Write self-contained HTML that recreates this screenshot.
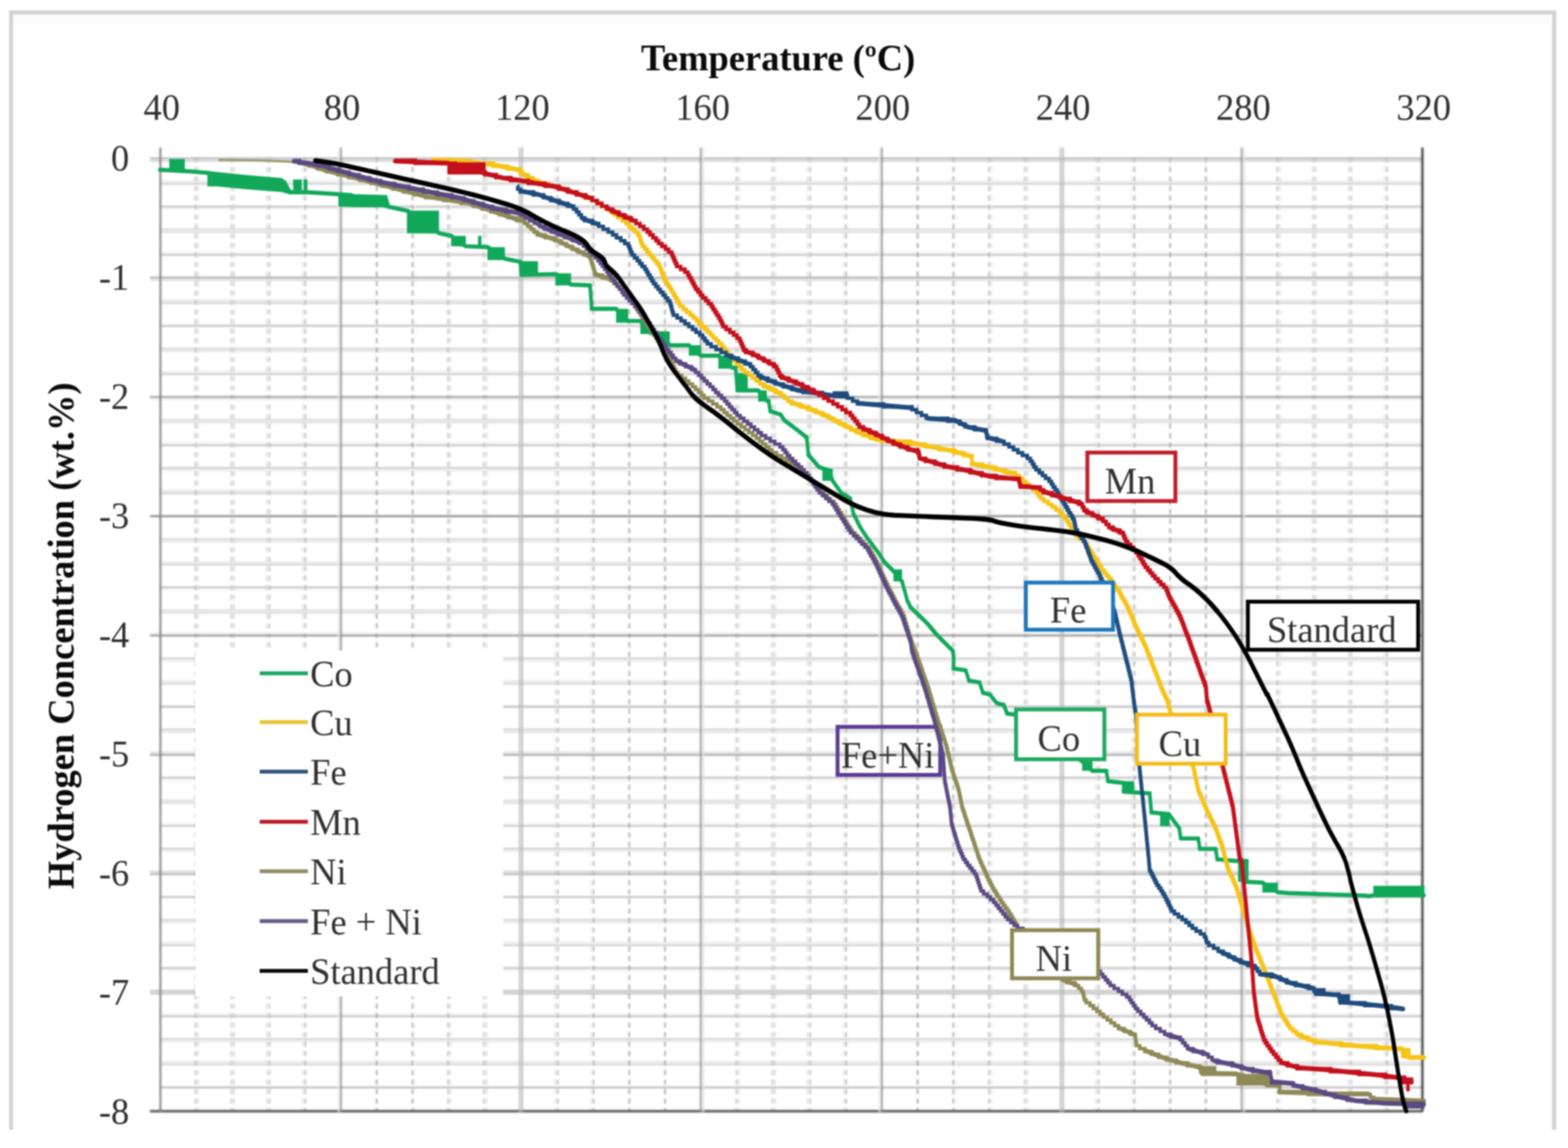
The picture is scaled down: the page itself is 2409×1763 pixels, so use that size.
<!DOCTYPE html>
<html lang="en"><head><meta charset="utf-8"><title>Hydrogen Concentration vs Temperature</title>
<style>
html,body{margin:0;padding:0;background:#fff;}
body{width:2409px;height:1763px;overflow:hidden;}
svg{display:block;filter:blur(0.9px);}
text{font-family:"Liberation Serif","DejaVu Serif",serif;fill:#303030;}
.b{font-weight:bold;fill:#0a0a0a;}
.c{fill:none;stroke-linejoin:round;stroke-linecap:round;}
</style></head><body>
<svg width="2409" height="1763" viewBox="0 0 2409 1763">
<rect x="0" y="0" width="2409" height="1763" fill="#ffffff"/>
<g id="frame" fill="#d3d3d3">
<rect x="14" y="16" width="2377" height="6.2"/>
<rect x="14" y="16" width="6" height="1719"/>
<rect x="2384.4" y="16" width="6.6" height="1719"/>
</g>
<g id="frame-shadow" fill="#fbfbfb">
<rect x="20.5" y="22.5" width="2364" height="14"/>
</g>
<g id="grid" style="filter:blur(0.8px)">
<line x1="246.4" y1="278.2" x2="2185.3" y2="278.2" stroke="#ebebeb" stroke-width="2.4"/>
<line x1="246.4" y1="282.1" x2="2185.3" y2="282.1" stroke="#c3c3c3" stroke-width="2.4"/>
<line x1="246.4" y1="317.2" x2="2185.3" y2="317.2" stroke="#b9b9b9" stroke-width="2.4"/>
<line x1="246.4" y1="321.1" x2="2185.3" y2="321.1" stroke="#f5f5f5" stroke-width="2.4"/>
<line x1="246.4" y1="352.3" x2="2185.3" y2="352.3" stroke="#d7d7d7" stroke-width="2.4"/>
<line x1="246.4" y1="356.2" x2="2185.3" y2="356.2" stroke="#d7d7d7" stroke-width="2.4"/>
<line x1="246.4" y1="387.4" x2="2185.3" y2="387.4" stroke="#f5f5f5" stroke-width="2.4"/>
<line x1="246.4" y1="391.3" x2="2185.3" y2="391.3" stroke="#b9b9b9" stroke-width="2.4"/>
<line x1="246.4" y1="461.4" x2="2185.3" y2="461.4" stroke="#e1e1e1" stroke-width="2.4"/>
<line x1="246.4" y1="465.3" x2="2185.3" y2="465.3" stroke="#cdcdcd" stroke-width="2.4"/>
<line x1="246.4" y1="500.4" x2="2185.3" y2="500.4" stroke="#afafaf" stroke-width="2.4"/>
<line x1="246.4" y1="535.5" x2="2185.3" y2="535.5" stroke="#cdcdcd" stroke-width="2.4"/>
<line x1="246.4" y1="539.4" x2="2185.3" y2="539.4" stroke="#e1e1e1" stroke-width="2.4"/>
<line x1="246.4" y1="570.6" x2="2185.3" y2="570.6" stroke="#ebebeb" stroke-width="2.4"/>
<line x1="246.4" y1="574.5" x2="2185.3" y2="574.5" stroke="#c3c3c3" stroke-width="2.4"/>
<line x1="246.4" y1="644.7" x2="2185.3" y2="644.7" stroke="#d7d7d7" stroke-width="2.4"/>
<line x1="246.4" y1="648.6" x2="2185.3" y2="648.6" stroke="#d7d7d7" stroke-width="2.4"/>
<line x1="246.4" y1="679.8" x2="2185.3" y2="679.8" stroke="#f5f5f5" stroke-width="2.4"/>
<line x1="246.4" y1="683.7" x2="2185.3" y2="683.7" stroke="#b9b9b9" stroke-width="2.4"/>
<line x1="246.4" y1="718.7" x2="2185.3" y2="718.7" stroke="#c3c3c3" stroke-width="2.4"/>
<line x1="246.4" y1="722.6" x2="2185.3" y2="722.6" stroke="#ebebeb" stroke-width="2.4"/>
<line x1="246.4" y1="753.8" x2="2185.3" y2="753.8" stroke="#e1e1e1" stroke-width="2.4"/>
<line x1="246.4" y1="757.7" x2="2185.3" y2="757.7" stroke="#cdcdcd" stroke-width="2.4"/>
<line x1="246.4" y1="827.9" x2="2185.3" y2="827.9" stroke="#cdcdcd" stroke-width="2.4"/>
<line x1="246.4" y1="831.8" x2="2185.3" y2="831.8" stroke="#e1e1e1" stroke-width="2.4"/>
<line x1="246.4" y1="863.0" x2="2185.3" y2="863.0" stroke="#ebebeb" stroke-width="2.4"/>
<line x1="246.4" y1="866.9" x2="2185.3" y2="866.9" stroke="#c3c3c3" stroke-width="2.4"/>
<line x1="246.4" y1="902.0" x2="2185.3" y2="902.0" stroke="#b9b9b9" stroke-width="2.4"/>
<line x1="246.4" y1="905.9" x2="2185.3" y2="905.9" stroke="#f5f5f5" stroke-width="2.4"/>
<line x1="246.4" y1="937.1" x2="2185.3" y2="937.1" stroke="#d7d7d7" stroke-width="2.4"/>
<line x1="246.4" y1="941.0" x2="2185.3" y2="941.0" stroke="#d7d7d7" stroke-width="2.4"/>
<line x1="246.4" y1="1011.1" x2="2185.3" y2="1011.1" stroke="#c3c3c3" stroke-width="2.4"/>
<line x1="246.4" y1="1015.0" x2="2185.3" y2="1015.0" stroke="#ebebeb" stroke-width="2.4"/>
<line x1="246.4" y1="1046.2" x2="2185.3" y2="1046.2" stroke="#e1e1e1" stroke-width="2.4"/>
<line x1="246.4" y1="1050.1" x2="2185.3" y2="1050.1" stroke="#cdcdcd" stroke-width="2.4"/>
<line x1="246.4" y1="1085.2" x2="2185.3" y2="1085.2" stroke="#afafaf" stroke-width="2.4"/>
<line x1="246.4" y1="1120.3" x2="2185.3" y2="1120.3" stroke="#cdcdcd" stroke-width="2.4"/>
<line x1="246.4" y1="1124.2" x2="2185.3" y2="1124.2" stroke="#e1e1e1" stroke-width="2.4"/>
<line x1="246.4" y1="1194.3" x2="2185.3" y2="1194.3" stroke="#b9b9b9" stroke-width="2.4"/>
<line x1="246.4" y1="1198.2" x2="2185.3" y2="1198.2" stroke="#f5f5f5" stroke-width="2.4"/>
<line x1="246.4" y1="1229.4" x2="2185.3" y2="1229.4" stroke="#d7d7d7" stroke-width="2.4"/>
<line x1="246.4" y1="1233.3" x2="2185.3" y2="1233.3" stroke="#d7d7d7" stroke-width="2.4"/>
<line x1="246.4" y1="1264.5" x2="2185.3" y2="1264.5" stroke="#f5f5f5" stroke-width="2.4"/>
<line x1="246.4" y1="1268.4" x2="2185.3" y2="1268.4" stroke="#b9b9b9" stroke-width="2.4"/>
<line x1="246.4" y1="1303.5" x2="2185.3" y2="1303.5" stroke="#c3c3c3" stroke-width="2.4"/>
<line x1="246.4" y1="1307.4" x2="2185.3" y2="1307.4" stroke="#ebebeb" stroke-width="2.4"/>
<line x1="246.4" y1="1377.6" x2="2185.3" y2="1377.6" stroke="#afafaf" stroke-width="2.4"/>
<line x1="246.4" y1="1412.7" x2="2185.3" y2="1412.7" stroke="#cdcdcd" stroke-width="2.4"/>
<line x1="246.4" y1="1416.6" x2="2185.3" y2="1416.6" stroke="#e1e1e1" stroke-width="2.4"/>
<line x1="246.4" y1="1447.7" x2="2185.3" y2="1447.7" stroke="#ebebeb" stroke-width="2.4"/>
<line x1="246.4" y1="1451.6" x2="2185.3" y2="1451.6" stroke="#c3c3c3" stroke-width="2.4"/>
<line x1="246.4" y1="1486.7" x2="2185.3" y2="1486.7" stroke="#b9b9b9" stroke-width="2.4"/>
<line x1="246.4" y1="1490.6" x2="2185.3" y2="1490.6" stroke="#f5f5f5" stroke-width="2.4"/>
<line x1="246.4" y1="1556.9" x2="2185.3" y2="1556.9" stroke="#f5f5f5" stroke-width="2.4"/>
<line x1="246.4" y1="1560.8" x2="2185.3" y2="1560.8" stroke="#b9b9b9" stroke-width="2.4"/>
<line x1="246.4" y1="1595.9" x2="2185.3" y2="1595.9" stroke="#c3c3c3" stroke-width="2.4"/>
<line x1="246.4" y1="1599.8" x2="2185.3" y2="1599.8" stroke="#ebebeb" stroke-width="2.4"/>
<line x1="246.4" y1="1631.0" x2="2185.3" y2="1631.0" stroke="#e1e1e1" stroke-width="2.4"/>
<line x1="246.4" y1="1634.9" x2="2185.3" y2="1634.9" stroke="#cdcdcd" stroke-width="2.4"/>
<line x1="246.4" y1="1670.0" x2="2185.3" y2="1670.0" stroke="#afafaf" stroke-width="2.4"/>
<line x1="300.5" y1="241.6" x2="300.5" y2="1706.5" stroke="#b9b9b9" stroke-width="2.2" stroke-dasharray="8 6.6"/>
<line x1="304.4" y1="241.6" x2="304.4" y2="1706.5" stroke="#dddddd" stroke-width="2.2" stroke-dasharray="8 6.6"/>
<line x1="355.4" y1="241.6" x2="355.4" y2="1706.5" stroke="#c7c7c7" stroke-width="2.2" stroke-dasharray="8 6.6"/>
<line x1="359.3" y1="241.6" x2="359.3" y2="1706.5" stroke="#cfcfcf" stroke-width="2.2" stroke-dasharray="8 6.6"/>
<line x1="410.3" y1="241.6" x2="410.3" y2="1706.5" stroke="#d5d5d5" stroke-width="2.2" stroke-dasharray="8 6.6"/>
<line x1="414.2" y1="241.6" x2="414.2" y2="1706.5" stroke="#c1c1c1" stroke-width="2.2" stroke-dasharray="8 6.6"/>
<line x1="465.1" y1="241.6" x2="465.1" y2="1706.5" stroke="#e3e3e3" stroke-width="2.2" stroke-dasharray="8 6.6"/>
<line x1="469.1" y1="241.6" x2="469.1" y2="1706.5" stroke="#b3b3b3" stroke-width="2.2" stroke-dasharray="8 6.6"/>
<line x1="578.8" y1="241.6" x2="578.8" y2="1706.5" stroke="#989898" stroke-width="2.2" stroke-dasharray="8 6.6"/>
<line x1="633.7" y1="241.6" x2="633.7" y2="1706.5" stroke="#a4a4a4" stroke-width="2.2" stroke-dasharray="8 6.6"/>
<line x1="637.6" y1="241.6" x2="637.6" y2="1706.5" stroke="#f2f2f2" stroke-width="2.2" stroke-dasharray="8 6.6"/>
<line x1="688.6" y1="241.6" x2="688.6" y2="1706.5" stroke="#b2b2b2" stroke-width="2.2" stroke-dasharray="8 6.6"/>
<line x1="692.5" y1="241.6" x2="692.5" y2="1706.5" stroke="#e4e4e4" stroke-width="2.2" stroke-dasharray="8 6.6"/>
<line x1="743.4" y1="241.6" x2="743.4" y2="1706.5" stroke="#c0c0c0" stroke-width="2.2" stroke-dasharray="8 6.6"/>
<line x1="747.4" y1="241.6" x2="747.4" y2="1706.5" stroke="#d6d6d6" stroke-width="2.2" stroke-dasharray="8 6.6"/>
<line x1="853.2" y1="241.6" x2="853.2" y2="1706.5" stroke="#dcdcdc" stroke-width="2.2" stroke-dasharray="8 6.6"/>
<line x1="857.1" y1="241.6" x2="857.1" y2="1706.5" stroke="#bababa" stroke-width="2.2" stroke-dasharray="8 6.6"/>
<line x1="908.0" y1="241.6" x2="908.0" y2="1706.5" stroke="#eaeaea" stroke-width="2.2" stroke-dasharray="8 6.6"/>
<line x1="912.0" y1="241.6" x2="912.0" y2="1706.5" stroke="#acacac" stroke-width="2.2" stroke-dasharray="8 6.6"/>
<line x1="966.8" y1="241.6" x2="966.8" y2="1706.5" stroke="#9f9f9f" stroke-width="2.2" stroke-dasharray="8 6.6"/>
<line x1="1021.7" y1="241.6" x2="1021.7" y2="1706.5" stroke="#9d9d9d" stroke-width="2.2" stroke-dasharray="8 6.6"/>
<line x1="1131.5" y1="241.6" x2="1131.5" y2="1706.5" stroke="#b9b9b9" stroke-width="2.2" stroke-dasharray="8 6.6"/>
<line x1="1135.4" y1="241.6" x2="1135.4" y2="1706.5" stroke="#dddddd" stroke-width="2.2" stroke-dasharray="8 6.6"/>
<line x1="1186.3" y1="241.6" x2="1186.3" y2="1706.5" stroke="#c7c7c7" stroke-width="2.2" stroke-dasharray="8 6.6"/>
<line x1="1190.3" y1="241.6" x2="1190.3" y2="1706.5" stroke="#cfcfcf" stroke-width="2.2" stroke-dasharray="8 6.6"/>
<line x1="1241.2" y1="241.6" x2="1241.2" y2="1706.5" stroke="#d5d5d5" stroke-width="2.2" stroke-dasharray="8 6.6"/>
<line x1="1245.1" y1="241.6" x2="1245.1" y2="1706.5" stroke="#c1c1c1" stroke-width="2.2" stroke-dasharray="8 6.6"/>
<line x1="1296.1" y1="241.6" x2="1296.1" y2="1706.5" stroke="#e3e3e3" stroke-width="2.2" stroke-dasharray="8 6.6"/>
<line x1="1300.0" y1="241.6" x2="1300.0" y2="1706.5" stroke="#b3b3b3" stroke-width="2.2" stroke-dasharray="8 6.6"/>
<line x1="1409.8" y1="241.6" x2="1409.8" y2="1706.5" stroke="#989898" stroke-width="2.2" stroke-dasharray="8 6.6"/>
<line x1="1464.6" y1="241.6" x2="1464.6" y2="1706.5" stroke="#a4a4a4" stroke-width="2.2" stroke-dasharray="8 6.6"/>
<line x1="1468.6" y1="241.6" x2="1468.6" y2="1706.5" stroke="#f2f2f2" stroke-width="2.2" stroke-dasharray="8 6.6"/>
<line x1="1519.5" y1="241.6" x2="1519.5" y2="1706.5" stroke="#b2b2b2" stroke-width="2.2" stroke-dasharray="8 6.6"/>
<line x1="1523.4" y1="241.6" x2="1523.4" y2="1706.5" stroke="#e4e4e4" stroke-width="2.2" stroke-dasharray="8 6.6"/>
<line x1="1574.4" y1="241.6" x2="1574.4" y2="1706.5" stroke="#c0c0c0" stroke-width="2.2" stroke-dasharray="8 6.6"/>
<line x1="1578.3" y1="241.6" x2="1578.3" y2="1706.5" stroke="#d6d6d6" stroke-width="2.2" stroke-dasharray="8 6.6"/>
<line x1="1684.1" y1="241.6" x2="1684.1" y2="1706.5" stroke="#dcdcdc" stroke-width="2.2" stroke-dasharray="8 6.6"/>
<line x1="1688.1" y1="241.6" x2="1688.1" y2="1706.5" stroke="#bababa" stroke-width="2.2" stroke-dasharray="8 6.6"/>
<line x1="1739.0" y1="241.6" x2="1739.0" y2="1706.5" stroke="#e9e9e9" stroke-width="2.2" stroke-dasharray="8 6.6"/>
<line x1="1742.9" y1="241.6" x2="1742.9" y2="1706.5" stroke="#adadad" stroke-width="2.2" stroke-dasharray="8 6.6"/>
<line x1="1797.8" y1="241.6" x2="1797.8" y2="1706.5" stroke="#9f9f9f" stroke-width="2.2" stroke-dasharray="8 6.6"/>
<line x1="1852.7" y1="241.6" x2="1852.7" y2="1706.5" stroke="#9d9d9d" stroke-width="2.2" stroke-dasharray="8 6.6"/>
<line x1="1962.4" y1="241.6" x2="1962.4" y2="1706.5" stroke="#b9b9b9" stroke-width="2.2" stroke-dasharray="8 6.6"/>
<line x1="1966.4" y1="241.6" x2="1966.4" y2="1706.5" stroke="#dddddd" stroke-width="2.2" stroke-dasharray="8 6.6"/>
<line x1="2017.3" y1="241.6" x2="2017.3" y2="1706.5" stroke="#c7c7c7" stroke-width="2.2" stroke-dasharray="8 6.6"/>
<line x1="2021.2" y1="241.6" x2="2021.2" y2="1706.5" stroke="#cfcfcf" stroke-width="2.2" stroke-dasharray="8 6.6"/>
<line x1="2072.2" y1="241.6" x2="2072.2" y2="1706.5" stroke="#d5d5d5" stroke-width="2.2" stroke-dasharray="8 6.6"/>
<line x1="2076.1" y1="241.6" x2="2076.1" y2="1706.5" stroke="#c1c1c1" stroke-width="2.2" stroke-dasharray="8 6.6"/>
<line x1="2127.0" y1="241.6" x2="2127.0" y2="1706.5" stroke="#e3e3e3" stroke-width="2.2" stroke-dasharray="8 6.6"/>
<line x1="2131.0" y1="241.6" x2="2131.0" y2="1706.5" stroke="#b3b3b3" stroke-width="2.2" stroke-dasharray="8 6.6"/>
<line x1="230.4" y1="243.1" x2="2185.3" y2="243.1" stroke="#a9a9a9" stroke-width="2.4"/>
<line x1="230.4" y1="247.0" x2="2185.3" y2="247.0" stroke="#cbcbcb" stroke-width="2.4"/>
<line x1="230.4" y1="426.4" x2="2185.3" y2="426.4" stroke="#989898" stroke-width="2.4"/>
<line x1="230.4" y1="430.3" x2="2185.3" y2="430.3" stroke="#dcdcdc" stroke-width="2.4"/>
<line x1="230.4" y1="609.6" x2="2185.3" y2="609.6" stroke="#868686" stroke-width="2.4"/>
<line x1="230.4" y1="613.5" x2="2185.3" y2="613.5" stroke="#eeeeee" stroke-width="2.4"/>
<line x1="230.4" y1="792.8" x2="2185.3" y2="792.8" stroke="#757575" stroke-width="2.4"/>
<line x1="230.4" y1="972.1" x2="2185.3" y2="972.1" stroke="#eeeeee" stroke-width="2.4"/>
<line x1="230.4" y1="976.0" x2="2185.3" y2="976.0" stroke="#868686" stroke-width="2.4"/>
<line x1="230.4" y1="1155.4" x2="2185.3" y2="1155.4" stroke="#dcdcdc" stroke-width="2.4"/>
<line x1="230.4" y1="1159.3" x2="2185.3" y2="1159.3" stroke="#989898" stroke-width="2.4"/>
<line x1="230.4" y1="1338.6" x2="2185.3" y2="1338.6" stroke="#cbcbcb" stroke-width="2.4"/>
<line x1="230.4" y1="1342.5" x2="2185.3" y2="1342.5" stroke="#a9a9a9" stroke-width="2.4"/>
<line x1="230.4" y1="1521.8" x2="2185.3" y2="1521.8" stroke="#bababa" stroke-width="2.4"/>
<line x1="230.4" y1="1525.7" x2="2185.3" y2="1525.7" stroke="#bababa" stroke-width="2.4"/>
<line x1="230.4" y1="1706.5" x2="2185.3" y2="1706.5" stroke="#484848" stroke-width="3.4"/>
<line x1="246.4" y1="226.6" x2="246.4" y2="1707.5" stroke="#848484" stroke-width="3"/>
<line x1="520.0" y1="226.6" x2="520.0" y2="1707.5" stroke="#ececec" stroke-width="2.4"/>
<line x1="523.9" y1="226.6" x2="523.9" y2="1707.5" stroke="#888888" stroke-width="2.4"/>
<line x1="798.3" y1="226.6" x2="798.3" y2="1707.5" stroke="#bebebe" stroke-width="2.4"/>
<line x1="802.2" y1="226.6" x2="802.2" y2="1707.5" stroke="#b6b6b6" stroke-width="2.4"/>
<line x1="1076.6" y1="226.6" x2="1076.6" y2="1707.5" stroke="#909090" stroke-width="2.4"/>
<line x1="1080.5" y1="226.6" x2="1080.5" y2="1707.5" stroke="#e4e4e4" stroke-width="2.4"/>
<line x1="1351.0" y1="226.6" x2="1351.0" y2="1707.5" stroke="#ececec" stroke-width="2.4"/>
<line x1="1354.9" y1="226.6" x2="1354.9" y2="1707.5" stroke="#888888" stroke-width="2.4"/>
<line x1="1629.3" y1="226.6" x2="1629.3" y2="1707.5" stroke="#bebebe" stroke-width="2.4"/>
<line x1="1633.2" y1="226.6" x2="1633.2" y2="1707.5" stroke="#b6b6b6" stroke-width="2.4"/>
<line x1="1907.6" y1="226.6" x2="1907.6" y2="1707.5" stroke="#909090" stroke-width="2.4"/>
<line x1="1911.5" y1="226.6" x2="1911.5" y2="1707.5" stroke="#e4e4e4" stroke-width="2.4"/>
<line x1="2185.3" y1="226.6" x2="2185.3" y2="1707.5" stroke="#3a3a3a" stroke-width="3.4"/>
</g>
<rect id="legend-bg" x="300" y="999" width="473" height="531" fill="#ffffff"/>
<rect x="1286.8" y="1116.2" width="157.7" height="73.8" fill="none" stroke="#5b3c96" stroke-width="6"/>
<g id="series">
<path class="c" d="M337 245.6 L400 246.4 L440 248 L464 249.6" stroke="#8f8a58" stroke-width="3.4" opacity="0.85"/>
<g id="s-co">
<rect x="800.0" y="401.1" width="26.6" height="18.6" fill="#12a85a"/>
<rect x="853.3" y="419.7" width="24.0" height="18.6" fill="#12a85a"/>
<rect x="946.5" y="474.3" width="18.6" height="21.3" fill="#12a85a"/>
<rect x="983.8" y="492.9" width="16.0" height="20.0" fill="#12a85a"/>
<rect x="1013.0" y="508.9" width="16.0" height="21.3" fill="#12a85a"/>
<rect x="1058.3" y="530.2" width="18.6" height="16.0" fill="#12a85a"/>
<rect x="1103.6" y="546.2" width="21.3" height="20.0" fill="#12a85a"/>
<rect x="1132.9" y="572.8" width="16.0" height="26.6" fill="#12a85a"/>
<rect x="1164.8" y="599.5" width="13.3" height="17.3" fill="#12a85a"/>
<rect x="1263.4" y="719.9" width="16.0" height="18.6" fill="#12a85a"/>
<rect x="1372.6" y="874.4" width="13.3" height="18.6" fill="#12a85a"/>
<rect x="1662.5" y="1169.1" width="16.0" height="14.6" fill="#12a85a"/>
<rect x="1726.4" y="1199.7" width="16.0" height="17.3" fill="#12a85a"/>
<rect x="1782.3" y="1250.3" width="14.6" height="18.6" fill="#12a85a"/>
<rect x="1902.1" y="1320.9" width="14.6" height="33.3" fill="#12a85a"/>
<rect x="1939.4" y="1355.5" width="24.0" height="15.2" fill="#12a85a"/>
<rect x="2109.9" y="1360.3" width="78.6" height="17.3" fill="#12a85a"/>
<polygon points="260.0,244.3 283.9,244.3 283.9,262.9 260.0,261.0" fill="#12a85a"/>
<polygon points="318.6,262.5 373.2,268.3 433.1,273.6 439.7,278.3 446.4,291.6 446.4,298.9 433.1,294.9 373.2,290.2 333.2,286.3 318.6,286.3" fill="#12a85a"/>
<polygon points="450.4,275.6 463.7,275.6 463.7,295.6 450.4,295.6" fill="#12a85a"/>
<polygon points="466.4,275.6 472.4,275.6 472.4,295.6 466.4,295.6" fill="#12a85a"/>
<polygon points="522.3,298.2 528.9,298.2 528.9,316.9 522.3,316.9" fill="#12a85a"/>
<polygon points="520.0,297.6 594.6,299.6 599.9,318.2 544.0,318.2 520.0,316.9" fill="#12a85a"/>
<polygon points="625.2,323.5 674.5,323.5 674.5,358.8 625.2,358.2" fill="#12a85a"/>
<polygon points="693.1,362.2 715.7,362.2 715.7,378.8 693.1,378.1" fill="#12a85a"/>
<polygon points="734.4,362.2 739.7,362.2 739.7,378.8 734.4,378.8" fill="#12a85a"/>
<polygon points="749.0,379.5 775.7,379.5 775.7,399.4 749.0,399.4" fill="#12a85a"/>
<polygon points="799.6,402.1 820.9,402.1 820.9,422.1 799.6,422.1" fill="#12a85a"/>
<path class="c" d="M246.0 260.7 L293.3 263.3 L319.9 265.6 L373.2 278.3 L439.7 288.9 L446.4 295.3 L473.0 295.2 L519.6 298.2 L539.6 299.6" stroke="#12a85a" stroke-width="6.4"/>
<path class="c" d="M539.6 299.6 L540.0 301.6" stroke="#12a85a" stroke-width="5.6"/>
<path class="c" d="M540.0 301.6 L599.9 318.2 L626.5 323.8 L674.5 358.2 L693.1 362.2 L715.7 378.1 L749.0 379.5 L775.7 397.4 L799.6 402.1" stroke="#12a85a" stroke-width="6.4"/>
<path class="c" d="M799.6 402.1 L801.0 422.1" stroke="#12a85a" stroke-width="5.6"/>
<path class="c" d="M801.0 422.1 L853.3 421.0 L877.2 437.0 L906.5 438.3" stroke="#12a85a" stroke-width="6.4"/>
<path class="c" d="M906.5 438.3 L909.2 474.3" stroke="#12a85a" stroke-width="5.6"/>
<path class="c" d="M909.2 474.3 L946.5 474.3 L965.1 492.9 L983.8 492.9 L999.7 511.6 L1013.0 511.6 L1029.0 530.2 L1058.3 530.2 L1077.0 546.2 L1103.6 546.2 L1124.9 564.8 L1130.2 564.8" stroke="#12a85a" stroke-width="6.4"/>
<path class="c" d="M1130.2 564.8 L1132.9 599.5" stroke="#12a85a" stroke-width="5.6"/>
<path class="c" d="M1132.9 599.5 L1164.8 599.5 L1178.2 615.4 L1180.8 615.4" stroke="#12a85a" stroke-width="6.4"/>
<path class="c" d="M1180.8 615.4 L1183.5 631.4" stroke="#12a85a" stroke-width="5.6"/>
<path class="c" d="M1183.5 631.4 L1199.5 636.8" stroke="#12a85a" stroke-width="6.4"/>
<path class="c" d="M1199.5 636.8 L1204.8 645.3" stroke="#12a85a" stroke-width="6.0"/>
<path class="c" d="M1204.8 645.3 L1226.1 661.3 L1239.4 672.0" stroke="#12a85a" stroke-width="6.4"/>
<path class="c" d="M1239.4 672.0 L1242.1 698.6" stroke="#12a85a" stroke-width="5.6"/>
<path class="c" d="M1242.1 698.6 L1258.1 717.2 L1274.0 722.6" stroke="#12a85a" stroke-width="6.4"/>
<path class="c" d="M1274.0 722.6 L1279.4 738.5" stroke="#12a85a" stroke-width="5.6"/>
<path class="c" d="M1279.4 738.5 L1292.7 757.2" stroke="#12a85a" stroke-width="6.0"/>
<path class="c" d="M1292.7 757.2 L1306.0 765.2" stroke="#12a85a" stroke-width="6.4"/>
<path class="c" d="M1306.0 765.2 L1311.3 789.1" stroke="#12a85a" stroke-width="5.6"/>
<path class="c" d="M1311.3 789.1 L1322.0 810.4 L1332.6 826.4 L1348.6 847.7 L1359.3 863.7" stroke="#12a85a" stroke-width="6.0"/>
<path class="c" d="M1359.3 863.7 L1372.6 877.0" stroke="#12a85a" stroke-width="6.4"/>
<path class="c" d="M1372.6 877.0 L1385.9 893.0" stroke="#12a85a" stroke-width="6.0"/>
<path class="c" d="M1385.9 893.0 L1393.9 922.3" stroke="#12a85a" stroke-width="5.6"/>
<path class="c" d="M1393.9 922.3 L1399.2 932.9" stroke="#12a85a" stroke-width="6.0"/>
<path class="c" d="M1399.2 932.9 L1413.3 946.3 L1426.6 959.6 L1439.9 975.6 L1453.3 988.9 L1463.9 999.5" stroke="#12a85a" stroke-width="6.4"/>
<path class="c" d="M1463.9 999.5 L1465.2 1010.2 L1464.8 1026.6" stroke="#12a85a" stroke-width="5.6"/>
<path class="c" d="M1464.8 1026.6 L1483.5 1029.3" stroke="#12a85a" stroke-width="6.4"/>
<path class="c" d="M1483.5 1029.3 L1488.8 1045.3" stroke="#12a85a" stroke-width="5.6"/>
<path class="c" d="M1488.8 1045.3 L1504.8 1047.9" stroke="#12a85a" stroke-width="6.4"/>
<path class="c" d="M1504.8 1047.9 L1510.1 1063.9" stroke="#12a85a" stroke-width="5.6"/>
<path class="c" d="M1510.1 1063.9 L1520.8 1066.6" stroke="#12a85a" stroke-width="6.4"/>
<path class="c" d="M1520.8 1066.6 L1531.4 1079.9" stroke="#12a85a" stroke-width="6.0"/>
<path class="c" d="M1531.4 1079.9 L1542.1 1082.6" stroke="#12a85a" stroke-width="6.4"/>
<path class="c" d="M1542.1 1082.6 L1547.4 1095.9" stroke="#12a85a" stroke-width="6.0"/>
<path class="c" d="M1547.4 1095.9 L1558.1 1097.2 L1606.5 1133.2 L1662.5 1169.1 L1678.4 1183.8 L1699.7 1183.8" stroke="#12a85a" stroke-width="6.4"/>
<path class="c" d="M1699.7 1183.8 L1702.4 1199.7" stroke="#12a85a" stroke-width="5.6"/>
<path class="c" d="M1702.4 1199.7 L1726.4 1202.4" stroke="#12a85a" stroke-width="6.4"/>
<path class="c" d="M1726.4 1202.4 L1726.4 1215.7" stroke="#12a85a" stroke-width="5.6"/>
<path class="c" d="M1726.4 1215.7 L1766.3 1218.4" stroke="#12a85a" stroke-width="6.4"/>
<path class="c" d="M1766.3 1218.4 L1769.0 1247.7" stroke="#12a85a" stroke-width="5.6"/>
<path class="c" d="M1769.0 1247.7 L1795.6 1250.3" stroke="#12a85a" stroke-width="6.4"/>
<path class="c" d="M1795.6 1250.3 L1811.6 1271.6" stroke="#12a85a" stroke-width="6.0"/>
<path class="c" d="M1811.6 1271.6 L1814.2 1287.6" stroke="#12a85a" stroke-width="5.6"/>
<path class="c" d="M1814.2 1287.6 L1840.9 1287.6" stroke="#12a85a" stroke-width="6.4"/>
<path class="c" d="M1840.9 1287.6 L1843.5 1303.6" stroke="#12a85a" stroke-width="5.6"/>
<path class="c" d="M1843.5 1303.6 L1867.5 1303.6" stroke="#12a85a" stroke-width="6.4"/>
<path class="c" d="M1867.5 1303.6 L1870.2 1319.6" stroke="#12a85a" stroke-width="5.6"/>
<path class="c" d="M1870.2 1319.6 L1899.5 1322.2 L1915.4 1322.2" stroke="#12a85a" stroke-width="6.4"/>
<path class="c" d="M1915.4 1322.2 L1915.4 1354.2" stroke="#12a85a" stroke-width="5.6"/>
<path class="c" d="M1915.4 1354.2 L1939.4 1355.5 L1963.4 1370.2 L1979.4 1371.5 L2099.2 1375.5 L2101.9 1376.3 L2109.9 1374.9 L2187.2 1374.9" stroke="#12a85a" stroke-width="6.4"/>
</g>
<g id="s-cu">
<rect x="2152.5" y="1609.3" width="14.6" height="16.0" fill="#f6c317"/>
<path class="c" d="M666.0 245.8 L706.0 246.6 L759.3 253.3 L799.2 261.3" stroke="#f6c317" stroke-width="7.2"/>
<path class="c" d="M800.0 265.2 L826.6 279.4 L866.6 290.5 L906.5 304.4" stroke="#f6c317" stroke-width="7.2"/>
<path class="c" d="M1172.8 591.5 L1199.5 604.8" stroke="#f6c317" stroke-width="7.2"/>
<path class="c" d="M1215.4 618.1 L1239.4 626.1 L1266.0 636.8 L1292.7 650.7 L1319.3 664.0 L1345.9 674.6 L1399.2 679.9 L1426.6 685.3 L1466.6 693.3 L1493.2 701.3" stroke="#f6c317" stroke-width="7.2"/>
<path class="c" d="M1493.2 711.9 L1519.8 717.2 L1559.8 727.9" stroke="#f6c317" stroke-width="7.2"/>
<path class="c" d="M1995.4 1589.3 L2022.0 1600.0 L2075.3 1605.3 L2128.6 1609.3 L2152.5 1610.6" stroke="#f6c317" stroke-width="7.2"/>
<path class="c" d="M2165.9 1623.9 L2187.2 1623.9" stroke="#f6c317" stroke-width="7.2"/>
<path class="c" style="stroke-linejoin:miter;stroke-linecap:butt" d="M666.0 246.4H722.7V250.8H757.7V255.2H780.0V259.6H799.4V264.0H802.2V268.4H810.8V272.8H818.7V277.2H827.4V281.6H843.1V286.0H858.7V290.4H872.7V294.8H885.8V299.2H898.1V303.6H909.3V308.0H916.3V312.4H924.0V316.8H931.1V321.2H937.7V325.6H943.5V330.0H949.4V334.4H955.9V338.8H961.6V343.2H966.3V347.6H970.4V352.0H975.2V356.4H979.9V360.8H982.4V365.2H983.9V369.6H985.1V374.0H986.9V378.4H990.6V382.8H994.3V387.2H997.9V391.6H1001.6V396.0H1005.2V400.4H1008.9V404.8H1012.5V409.2H1014.5V413.6H1016.2V418.0H1017.9V422.4H1019.6V426.8H1021.0V431.2H1024.0V435.6H1026.6V440.0H1029.6V444.4H1032.2V448.8H1034.8V453.2H1037.6V457.6H1040.1V462.0H1042.5V466.4H1045.0V470.8H1049.9V475.2H1054.7V479.6H1060.2V484.0H1065.1V488.4H1069.8V492.8H1073.8V497.2H1078.4V501.6H1083.0V506.0H1087.0V510.4H1091.7V514.8H1095.8V519.2H1100.4V523.6H1104.5V528.0H1108.9V532.4H1112.6V536.8H1115.8V541.2H1119.6V545.6H1123.8V550.0H1127.6V554.4H1131.3V558.8H1135.6V563.2H1139.3V567.6H1144.1V572.0H1150.0V576.4H1155.9V580.8H1161.7V585.2H1167.6V589.6H1173.6V594.0H1182.9V598.4H1191.6V602.8H1200.1V607.2H1205.2V611.6H1210.3V616.0H1216.2V620.4H1229.4V624.8H1241.7V629.2H1253.1V633.6H1263.8V638.0H1273.2V642.4H1281.2V646.8H1289.8V651.2H1298.4V655.6H1307.1V660.0H1316.4V664.4H1326.2V668.8H1337.6V673.2H1354.0V677.6H1398.4V682.0H1421.8V686.4H1443.4V690.8H1465.8V695.2H1480.7V699.6H1493.2V704.0H1493.2V708.4H1493.2V712.8H1509.3V717.2H1528.5V721.6H1544.9V726.0H1560.4V730.4H1566.1V734.8H1571.1V739.2H1576.1V743.6H1581.7V748.0H1586.7V752.4H1592.2V756.8H1595.2V761.2H1598.7V765.6H1603.7V770.0H1610.4V774.4H1616.4V778.8H1622.4V783.2H1628.0V787.6H1631.7V792.0H1635.4V796.4H1639.1V800.8H1641.8V805.2H1644.8V809.6H1647.4V814.0H1650.0V818.4H1653.0V822.8H1658.1V827.2H1663.8V831.6H1667.6V836.0H1670.6V840.4H1673.2V844.8H1676.2V849.2H1678.8V853.6H1681.8V858.0H1684.4V862.4H1686.9V866.8H1689.9V871.2H1692.5V875.6H1696.1V880.0H1699.9V884.4H1703.6V888.8H1707.2V893.2H1710.1V897.6H1713.4V902.0H1716.2V906.4H1719.6V910.8H1721.9V915.2H1724.3V919.6H1727.0V924.0H1729.4V928.4H1731.7V932.8H1733.8V937.2H1735.7V941.6H1737.5V946.0H1739.4V950.4H1741.3V954.8H1743.1V959.2H1745.0V963.6H1746.9V968.0H1749.1V972.4H1751.2V976.8H1753.4V981.2H1755.6V985.6H1757.7V990.0H1759.8V994.4H1761.5V998.8H1763.3V1003.2H1765.0V1007.6H1766.8V1012.0H1768.5V1016.4H1769.9V1020.8H1771.7V1025.2H1773.4V1029.6H1775.2V1034.0H1776.9V1038.4H1778.6V1042.8H1780.4V1047.2H1781.8V1051.6H1783.5V1056.0H1785.3V1060.4H1787.2V1064.8H1789.4V1069.2H1791.5V1073.6H1793.4V1078.0H1794.6V1082.4H1795.7V1086.8H1797.0V1091.2H1798.1V1095.6H1799.8V1100.0H1801.7V1104.4H1803.6V1108.8H1805.5V1113.2H1807.4V1117.6H1809.3V1122.0H1811.2V1126.4H1813.1V1130.8H1814.9V1135.2H1816.8V1139.6H1818.7V1144.0H1820.3V1148.4H1822.2V1152.8H1824.1V1157.2H1826.0V1161.6H1827.9V1166.0H1829.7V1170.4H1831.6V1174.8H1833.2V1179.2H1834.2V1183.6H1835.1V1188.0H1836.1V1192.4H1837.0V1196.8H1838.0V1201.2H1838.8V1205.6H1839.9V1210.0H1840.7V1214.4H1842.4V1218.8H1844.3V1223.2H1846.1V1227.6H1848.0V1232.0H1849.9V1236.4H1851.7V1240.8H1853.6V1245.2H1855.6V1249.6H1857.8V1254.0H1860.0V1258.4H1862.1V1262.8H1864.3V1267.2H1866.4V1271.6H1868.4V1276.0H1870.0V1280.4H1871.7V1284.8H1873.1V1289.2H1874.8V1293.6H1876.5V1298.0H1878.2V1302.4H1879.1V1306.8H1880.3V1311.2H1881.3V1315.6H1882.4V1320.0H1883.6V1324.4H1884.6V1328.8H1885.8V1333.2H1887.5V1337.6H1889.4V1342.0H1891.4V1346.4H1893.3V1350.8H1895.3V1355.2H1897.3V1359.6H1899.2V1364.0H1900.7V1368.4H1901.9V1372.8H1903.3V1377.2H1904.6V1381.6H1906.0V1386.0H1907.2V1390.4H1908.6V1394.8H1910.0V1399.2H1911.1V1403.6H1912.5V1408.0H1913.9V1412.4H1915.1V1416.8H1916.5V1421.2H1918.1V1425.6H1919.6V1430.0H1920.9V1434.4H1922.4V1438.8H1924.0V1443.2H1925.3V1447.6H1926.8V1452.0H1928.3V1456.4H1930.1V1460.8H1931.9V1465.2H1933.8V1469.6H1935.7V1474.0H1937.2V1478.4H1939.1V1482.8H1940.9V1487.2H1942.7V1491.6H1944.5V1496.0H1946.2V1500.4H1947.9V1504.8H1949.7V1509.2H1951.1V1513.6H1952.9V1518.0H1954.6V1522.4H1956.3V1526.8H1958.1V1531.2H1959.8V1535.6H1961.6V1540.0H1963.0V1544.4H1964.7V1548.8H1966.5V1553.2H1968.2V1557.6H1970.5V1562.0H1973.1V1566.4H1976.1V1570.8H1978.7V1575.2H1981.7V1579.6H1986.5V1584.0H1991.6V1588.4H1999.2V1592.8H2009.9V1597.2H2021.3V1601.6H2060.8V1606.0H2114.9V1610.4H2154.9V1614.8H2159.5V1619.2H2163.5V1623.6H2187.2" stroke="#f6c317" stroke-width="5.4"/>
</g>
<g id="s-fe">
<rect x="1279.4" y="600.8" width="24.0" height="10.7" fill="#1f4b7c"/>
<rect x="2056.7" y="1526.7" width="17.3" height="13.3" fill="#1f4b7c"/>
<rect x="2022.0" y="1517.4" width="14.6" height="10.7" fill="#1f4b7c"/>
<path class="c" d="M800.0 293.2 L826.6 298.5 L847.9 306.5 L879.9 317.2" stroke="#1f4b7c" stroke-width="7.2"/>
<path class="c" d="M895.9 335.8 L917.2 343.8" stroke="#1f4b7c" stroke-width="7.2"/>
<path class="c" d="M1119.6 546.2 L1151.5 559.5" stroke="#1f4b7c" stroke-width="7.2"/>
<path class="c" d="M1167.5 578.2 L1194.1 588.8 L1226.1 599.5 L1279.4 607.5 L1300.7 608.8" stroke="#1f4b7c" stroke-width="7.2"/>
<path class="c" d="M1319.3 619.4 L1399.2 626.1" stroke="#1f4b7c" stroke-width="7.2"/>
<path class="c" d="M1426.6 642.7 L1466.6 645.3 L1487.9 656.0 L1514.5 661.3" stroke="#1f4b7c" stroke-width="7.2"/>
<path class="c" d="M1517.2 672.0 L1538.5 677.3" stroke="#1f4b7c" stroke-width="7.2"/>
<path class="c" d="M1875.6 1461.5 L1902.2 1474.8 L1928.8 1485.5" stroke="#1f4b7c" stroke-width="7.2"/>
<path class="c" d="M1936.8 1496.1 L1958.1 1498.8 L1982.1 1509.4 L2016.7 1517.4" stroke="#1f4b7c" stroke-width="7.2"/>
<path class="c" d="M2022.0 1525.4 L2056.7 1528.1" stroke="#1f4b7c" stroke-width="7.2"/>
<path class="c" d="M2059.3 1538.7 L2075.3 1540.0 L2101.9 1542.7 L2128.6 1545.4 L2155.2 1549.4" stroke="#1f4b7c" stroke-width="7.2"/>
<path class="c" style="stroke-linejoin:miter;stroke-linecap:butt" d="M794.7 286.0H795.3V290.4H799.4V294.8H819.4V299.2H835.0V303.6H846.4V308.0H859.3V312.4H872.3V316.8H881.5V321.2H885.8V325.6H889.5V330.0H893.2V334.4H898.2V338.8H910.3V343.2H919.9V347.6H926.8V352.0H934.4V356.4H941.1V360.8H947.1V365.2H953.8V369.6H959.8V374.0H965.4V378.4H967.3V382.8H968.9V387.2H971.0V391.6H974.7V396.0H979.0V400.4H982.7V404.8H986.4V409.2H990.7V413.6H993.4V418.0H995.8V422.4H998.7V426.8H1001.2V431.2H1003.9V435.6H1007.5V440.0H1011.0V444.4H1014.6V448.8H1018.4V453.2H1022.1V457.6H1025.8V462.0H1029.2V466.4H1030.6V470.8H1031.9V475.2H1033.0V479.6H1034.4V484.0H1040.3V488.4H1046.3V492.8H1052.3V497.2H1058.2V501.6H1064.0V506.0H1069.2V510.4H1075.0V514.8H1079.5V519.2H1083.1V523.6H1086.6V528.0H1092.5V532.4H1100.1V536.8H1107.8V541.2H1115.4V545.6H1124.0V550.0H1134.4V554.4H1144.8V558.8H1153.1V563.2H1156.9V567.6H1160.6V572.0H1164.3V576.4H1169.0V580.8H1179.7V585.2H1191.1V589.6H1203.3V594.0H1217.0V598.4H1234.0V602.8H1263.5V607.2H1302.1V611.6H1310.0V616.0H1317.2V620.4H1357.7V624.8H1401.3V629.2H1408.1V633.6H1415.7V638.0H1423.2V642.4H1456.2V646.8H1474.7V651.2H1482.7V655.6H1497.6V660.0H1514.9V664.4H1515.9V668.8H1517.0V673.2H1531.4V677.6H1542.6V682.0H1550.2V686.4H1557.0V690.8H1563.9V695.2H1570.8V699.6H1578.3V704.0H1582.9V708.4H1586.0V712.8H1588.6V717.2H1591.7V721.6H1596.6V726.0H1601.5V730.4H1606.4V734.8H1611.8V739.2H1615.3V743.6H1617.9V748.0H1621.0V752.4H1624.1V756.8H1626.6V761.2H1629.2V765.6H1631.7V770.0H1634.6V774.4H1637.2V778.8H1639.7V783.2H1642.1V787.6H1645.0V792.0H1647.5V796.4H1649.9V800.8H1651.0V805.2H1652.0V809.6H1652.8V814.0H1655.4V818.4H1658.7V822.8H1661.6V827.2H1664.9V831.6H1667.2V836.0H1668.8V840.4H1670.5V844.8H1671.9V849.2H1673.6V853.6H1675.3V858.0H1676.7V862.4H1679.3V866.8H1681.7V871.2H1684.0V875.6H1686.4V880.0H1689.1V884.4H1690.9V888.8H1692.9V893.2H1694.8V897.6H1696.3V902.0H1698.1V906.4H1699.9V910.8H1701.7V915.2H1703.5V919.6H1705.4V924.0H1707.2V928.4H1709.0V932.8H1710.8V937.2H1712.3V941.6H1713.6V946.0H1714.7V950.4H1715.6V954.8H1716.7V959.2H1717.6V963.6H1718.7V968.0H1719.6V972.4H1720.8V976.8H1721.9V981.2H1722.9V985.6H1724.1V990.0H1725.1V994.4H1726.3V998.8H1727.3V1003.2H1728.5V1007.6H1729.6V1012.0H1730.6V1016.4H1731.8V1020.8H1733.0V1025.2H1733.9V1029.6H1735.1V1034.0H1736.1V1038.4H1737.2V1042.8H1738.3V1047.2H1738.8V1051.6H1739.3V1056.0H1739.8V1060.4H1740.4V1064.8H1740.8V1069.2H1741.4V1073.6H1741.9V1078.0H1742.5V1082.4H1743.1V1086.8H1743.9V1091.2H1744.6V1095.6H1745.2V1100.0H1745.4V1104.4H1745.8V1108.8H1746.0V1113.2H1746.3V1117.6H1746.6V1122.0H1746.9V1126.4H1747.2V1130.8H1747.5V1135.2H1747.8V1139.6H1748.1V1144.0H1748.4V1148.4H1748.7V1152.8H1749.0V1157.2H1749.3V1161.6H1749.6V1166.0H1749.9V1170.4H1750.2V1174.8H1750.5V1179.2H1751.0V1183.6H1751.4V1188.0H1751.9V1192.4H1752.4V1196.8H1752.8V1201.2H1753.3V1205.6H1753.7V1210.0H1754.2V1214.4H1754.6V1218.8H1755.2V1223.2H1755.6V1227.6H1756.1V1232.0H1756.5V1236.4H1756.9V1240.8H1757.3V1245.2H1757.8V1249.6H1758.2V1254.0H1758.7V1258.4H1759.1V1262.8H1759.6V1267.2H1760.0V1271.6H1760.5V1276.0H1760.9V1280.4H1761.3V1284.8H1761.7V1289.2H1762.2V1293.6H1762.6V1298.0H1763.1V1302.4H1763.5V1306.8H1763.9V1311.2H1764.3V1315.6H1764.8V1320.0H1765.1V1324.4H1765.5V1328.8H1765.9V1333.2H1766.3V1337.6H1768.5V1342.0H1770.7V1346.4H1772.9V1350.8H1775.1V1355.2H1777.4V1359.6H1780.5V1364.0H1783.6V1368.4H1786.3V1372.8H1789.1V1377.2H1791.2V1381.6H1793.4V1386.0H1795.5V1390.4H1797.7V1394.8H1799.9V1399.2H1804.3V1403.6H1810.3V1408.0H1816.2V1412.4H1822.0V1416.8H1827.0V1421.2H1831.9V1425.6H1837.6V1430.0H1844.3V1434.4H1850.3V1438.8H1852.6V1443.2H1853.7V1447.6H1857.0V1452.0H1864.6V1456.4H1871.5V1460.8H1879.2V1465.2H1887.8V1469.6H1896.5V1474.0H1906.0V1478.4H1917.4V1482.8H1928.1V1487.2H1931.8V1491.6H1935.3V1496.0H1954.0V1500.4H1967.1V1504.8H1976.9V1509.2H1990.8V1513.6H2010.4V1518.0H2018.9V1522.4H2021.6V1526.8H2057.1V1531.2H2058.1V1535.6H2059.1V1540.0H2097.1V1544.4H2137.5V1548.8H2155.2" stroke="#1f4b7c" stroke-width="5.4"/>
</g>
<g id="s-mn">
<rect x="2152.5" y="1654.6" width="18.6" height="10.7" fill="#c3101c"/>
<rect x="2160.5" y="1663.9" width="5.3" height="12.0" fill="#c3101c"/>
<rect x="687.4" y="249.3" width="58.6" height="18.6" fill="#c3101c"/>
<path class="c" d="M607.5 247.4 L687.4 250.6 L719.3 257.3 L745.9 266.6 L772.6 273.2 L799.2 277.2 L853.3 286.6 L906.5 303.9" stroke="#c3101c" stroke-width="7.2"/>
<path class="c" d="M933.2 319.8 L973.1 338.5" stroke="#c3101c" stroke-width="7.2"/>
<path class="c" d="M1143.5 538.2 L1159.5 544.9 L1191.5 562.2" stroke="#c3101c" stroke-width="7.2"/>
<path class="c" d="M1199.5 578.2 L1226.1 588.8 L1258.1 604.8" stroke="#c3101c" stroke-width="7.2"/>
<path class="c" d="M1322.0 656.0 L1345.9 666.6 L1372.6 679.9 L1399.2 690.6 L1410.7 693.3" stroke="#c3101c" stroke-width="7.2"/>
<path class="c" d="M1413.3 703.9 L1432.0 709.2 L1453.3 715.9 L1485.2 722.6 L1522.5 731.9 L1565.1 735.9" stroke="#c3101c" stroke-width="7.2"/>
<path class="c" d="M1567.8 746.5 L1597.1 749.2" stroke="#c3101c" stroke-width="7.2"/>
<path class="c" d="M1602.4 754.5 L1626.4 762.5 L1661.0 773.2" stroke="#c3101c" stroke-width="7.2"/>
<path class="c" d="M1666.3 783.8 L1692.9 797.1" stroke="#c3101c" stroke-width="7.2"/>
<path class="c" d="M1706.3 810.4 L1724.9 818.4" stroke="#c3101c" stroke-width="7.2"/>
<path class="c" d="M1968.8 1631.9 L1995.4 1639.9 L2035.4 1642.6 L2075.3 1646.6 L2115.3 1650.6 L2155.2 1655.9 L2168.5 1661.2" stroke="#c3101c" stroke-width="7.2"/>
<path class="c" style="stroke-linejoin:miter;stroke-linecap:butt" d="M607.5 246.4H638.1V250.8H699.3V255.2H720.1V259.6H733.0V264.0H745.2V268.4H762.4V272.8H784.7V277.2H811.9V281.6H837.4V286.0H858.6V290.4H872.3V294.8H886.0V299.2H899.7V303.6H910.0V308.0H917.7V312.4H924.7V316.8H932.5V321.2H941.1V325.6H950.6V330.0H960.0V334.4H969.5V338.8H977.1V343.2H983.1V347.6H989.1V352.0H994.6V356.4H998.7V360.8H1003.3V365.2H1007.9V369.6H1011.9V374.0H1016.8V378.4H1022.4V382.8H1027.3V387.2H1032.0V391.6H1033.9V396.0H1035.8V400.4H1037.8V404.8H1039.7V409.2H1045.7V413.6H1052.3V418.0H1056.8V422.4H1059.2V426.8H1061.9V431.2H1064.3V435.6H1066.6V440.0H1069.0V444.4H1072.5V448.8H1076.1V453.2H1079.6V457.6H1084.3V462.0H1088.3V466.4H1092.9V470.8H1095.5V475.2H1098.5V479.6H1101.1V484.0H1104.1V488.4H1106.6V492.8H1108.9V497.2H1110.8V501.6H1115.5V506.0H1121.3V510.4H1127.1V514.8H1132.3V519.2H1136.5V523.6H1138.4V528.0H1140.3V532.4H1142.3V536.8H1145.8V541.2H1156.5V545.6H1165.2V550.0H1173.7V554.4H1181.5V558.8H1189.3V563.2H1193.3V567.6H1195.5V572.0H1197.7V576.4H1201.0V580.8H1211.6V585.2H1223.1V589.6H1232.6V594.0H1241.4V598.4H1250.1V602.8H1258.7V607.2H1265.6V611.6H1272.5V616.0H1280.0V620.4H1286.9V624.8H1293.7V629.2H1299.8V633.6H1306.5V638.0H1310.0V642.4H1313.5V646.8H1317.0V651.2H1320.0V655.6H1326.5V660.0H1336.2V664.4H1345.9V668.8H1355.3V673.2H1363.9V677.6H1372.6V682.0H1383.2V686.4H1394.6V690.8H1409.8V695.2H1411.9V699.6H1412.9V704.0H1421.9V708.4H1436.7V712.8H1450.9V717.2H1470.8V721.6H1490.7V726.0H1508.5V730.4H1530.5V734.8H1565.5V739.2H1566.5V743.6H1567.8V748.0H1598.3V752.4H1603.2V756.8H1616.3V761.2H1629.4V765.6H1644.1V770.0H1657.9V774.4H1662.9V778.8H1665.2V783.2H1669.9V787.6H1678.5V792.0H1687.2V796.4H1694.7V800.8H1699.3V805.2H1703.4V809.6H1710.0V814.0H1720.4V818.4H1725.8V822.8H1727.7V827.2H1729.6V831.6H1732.5V836.0H1737.1V840.4H1741.6V844.8H1745.6V849.2H1748.8V853.6H1751.4V858.0H1754.4V862.4H1756.9V866.8H1759.5V871.2H1763.2V875.6H1767.0V880.0H1770.7V884.4H1774.6V888.8H1779.2V893.2H1783.3V897.6H1788.0V902.0H1791.8V906.4H1793.7V910.8H1795.2V915.2H1797.2V919.6H1799.5V924.0H1801.9V928.4H1804.6V932.8H1806.9V937.2H1809.3V941.6H1811.6V946.0H1813.7V950.4H1815.4V954.8H1817.1V959.2H1818.9V963.6H1820.3V968.0H1822.0V972.4H1823.8V976.8H1825.5V981.2H1827.2V985.6H1828.8V990.0H1830.2V994.4H1831.8V998.8H1833.4V1003.2H1835.1V1007.6H1836.7V1012.0H1838.1V1016.4H1839.7V1020.8H1841.3V1025.2H1842.9V1029.6H1844.3V1034.0H1845.9V1038.4H1847.6V1042.8H1849.2V1047.2H1850.8V1051.6H1852.2V1056.0H1853.0V1060.4H1853.3V1064.8H1853.6V1069.2H1854.0V1073.6H1854.6V1078.0H1855.9V1082.4H1857.0V1086.8H1858.2V1091.2H1859.3V1095.6H1860.4V1100.0H1861.3V1104.4H1862.4V1108.8H1863.5V1113.2H1864.4V1117.6H1865.4V1122.0H1866.3V1126.4H1867.4V1130.8H1868.5V1135.2H1869.4V1139.6H1870.5V1144.0H1871.5V1148.4H1872.4V1152.8H1873.5V1157.2H1874.6V1161.6H1875.5V1166.0H1876.5V1170.4H1877.4V1174.8H1878.6V1179.2H1879.7V1183.6H1880.7V1188.0H1881.9V1192.4H1883.0V1196.8H1884.0V1201.2H1885.2V1205.6H1886.3V1210.0H1887.3V1214.4H1888.5V1218.8H1889.7V1223.2H1890.6V1227.6H1891.8V1232.0H1892.8V1236.4H1893.9V1240.8H1894.7V1245.2H1895.2V1249.6H1895.8V1254.0H1896.4V1258.4H1897.0V1262.8H1897.5V1267.2H1898.2V1271.6H1898.7V1276.0H1899.4V1280.4H1899.9V1284.8H1900.5V1289.2H1901.1V1293.6H1901.7V1298.0H1902.2V1302.4H1902.9V1306.8H1903.4V1311.2H1904.0V1315.6H1904.6V1320.0H1907.0V1324.4H1907.9V1328.8H1908.3V1333.2H1908.8V1337.6H1909.2V1342.0H1909.7V1346.4H1910.1V1350.8H1910.6V1355.2H1911.0V1359.6H1911.5V1364.0H1911.9V1368.4H1912.3V1372.8H1912.8V1377.2H1913.2V1381.6H1913.7V1386.0H1914.1V1390.4H1914.6V1394.8H1915.0V1399.2H1915.4V1403.6H1915.8V1408.0H1916.3V1412.4H1916.7V1416.8H1917.1V1421.2H1917.6V1425.6H1918.0V1430.0H1918.5V1434.4H1918.9V1438.8H1919.4V1443.2H1919.8V1447.6H1920.3V1452.0H1920.7V1456.4H1921.2V1460.8H1921.6V1465.2H1922.0V1469.6H1922.5V1474.0H1922.9V1478.4H1923.4V1482.8H1923.7V1487.2H1924.0V1491.6H1924.3V1496.0H1924.6V1500.4H1924.8V1504.8H1925.2V1509.2H1925.4V1513.6H1925.8V1518.0H1926.0V1522.4H1926.5V1526.8H1927.0V1531.2H1927.7V1535.6H1928.2V1540.0H1928.8V1544.4H1929.4V1548.8H1930.0V1553.2H1930.5V1557.6H1931.2V1562.0H1932.0V1566.4H1933.4V1570.8H1934.8V1575.2H1936.2V1579.6H1937.4V1584.0H1938.8V1588.4H1940.3V1592.8H1941.7V1597.2H1944.1V1601.6H1946.9V1606.0H1950.2V1610.4H1953.1V1614.8H1956.5V1619.2H1960.3V1623.6H1964.0V1628.0H1967.7V1632.4H1978.2V1636.8H1993.1V1641.2H2044.2V1645.6H2088.1V1650.0H2128.0V1654.4H2157.6V1658.8H2168.5V1663.2H2168.5" stroke="#c3101c" stroke-width="5.6"/>
</g>
<g id="s-ni">
<rect x="1899.5" y="1649.2" width="50.6" height="17.8" fill="#8f8a58"/>
<rect x="1842.1" y="1637.2" width="26.6" height="12.0" fill="#8f8a58"/>
<path class="c" d="M462.0 249.5 L480.0 254.5 L500.9 261.8 L546.2 273.2 L652.7 301.2 L719.3 311.9 L759.3 325.2 L799.2 338.5 L800.0 335.8 L826.6 359.8 L853.3 367.8 L879.9 381.1" stroke="#8f8a58" stroke-width="5.6"/>
<path class="c" d="M462.0 249.5 L480.0 254.5 L500.9 261.8 L546.2 273.2 L652.7 301.2 L719.3 311.9 L759.3 325.2 L799.2 338.5" stroke="#8f8a58" stroke-width="7.2"/>
<path class="c" d="M826.6 359.8 L853.3 367.8 L879.9 381.1 L906.5 394.4" stroke="#8f8a58" stroke-width="7.2"/>
<path class="c" d="M914.5 421.0 L938.5 429.0" stroke="#8f8a58" stroke-width="7.2"/>
<path class="c" d="M1634.4 1505.4 L1653.0 1512.1" stroke="#8f8a58" stroke-width="7.2"/>
<path class="c" d="M1719.6 1578.7 L1743.5 1589.3" stroke="#8f8a58" stroke-width="7.2"/>
<path class="c" d="M1759.5 1613.3 L1786.2 1623.9 L1812.8 1631.9 L1847.4 1639.9" stroke="#8f8a58" stroke-width="7.2"/>
<path class="c" d="M1847.4 1647.9 L1898.0 1649.2 L1899.5 1649.2 L1950.1 1666.5 L1966.1 1666.5" stroke="#8f8a58" stroke-width="7.2"/>
<path class="c" d="M1966.1 1677.2 L2048.7 1679.9 L2101.9 1679.9" stroke="#8f8a58" stroke-width="7.2"/>
<path class="c" d="M2109.9 1687.8 L2187.2 1690.5" stroke="#8f8a58" stroke-width="7.2"/>
<path class="c" style="stroke-linejoin:miter;stroke-linecap:butt" d="M462.0 250.8H475.3V255.2H488.5V259.6H501.7V264.0H518.9V268.4H536.1V272.8H553.2V277.2H570.3V281.6H586.6V286.0H603.7V290.4H620.1V294.8H637.2V299.2H654.3V303.6H682.1V308.0H709.0V312.4H727.8V316.8H740.8V321.2H754.6V325.6H767.7V330.0H780.8V334.4H793.8V338.8H800.0V334.4H801.2V338.8H806.1V343.2H810.9V347.6H815.7V352.0H820.6V356.4H825.4V360.8H837.6V365.2H852.5V369.6H861.9V374.0H870.5V378.4H879.2V382.8H887.8V387.2H897.2V391.6H905.8V396.0H907.7V400.4H909.1V404.8H910.5V409.2H911.7V413.6H913.1V418.0H914.3V422.4H925.3V426.8H938.5V431.2H943.1V435.6H947.7V440.0H951.8V444.4H956.1V448.8H959.8V453.2H963.5V457.6H967.8V462.0H971.5V466.4H974.9V470.8H978.0V475.2H980.6V479.6H983.8V484.0H986.4V488.4H989.5V492.8H992.6V497.2H995.3V501.6H998.4V506.0H1001.1V510.4H1004.2V514.8H1007.3V519.2H1009.9V523.6H1013.0V528.0H1015.7V532.4H1018.8V536.8H1021.9V541.2H1024.6V545.6H1027.4V550.0H1029.6V554.4H1031.8V558.8H1033.9V563.2H1036.1V567.6H1038.2V572.0H1041.6V576.4H1047.3V580.8H1053.0V585.2H1058.1V589.6H1063.8V594.0H1068.6V598.4H1073.2V602.8H1077.7V607.2H1081.7V611.6H1088.3V616.0H1094.9V620.4H1101.6V624.8H1107.5V629.2H1112.3V633.6H1117.2V638.0H1122.1V642.4H1127.0V646.8H1132.8V651.2H1138.7V655.6H1144.5V660.0H1150.4V664.4H1156.3V668.8H1161.9V673.2H1166.8V677.6H1171.6V682.0H1176.5V686.4H1181.3V690.8H1186.2V695.2H1193.2V699.6H1200.9V704.0H1207.9V708.4H1214.8V712.8H1221.4V717.2H1227.4V721.6H1234.1V726.0H1239.9V730.4H1243.5V734.8H1247.0V739.2H1250.6V743.6H1254.1V748.0H1257.7V752.4H1261.3V756.8H1266.2V761.2H1271.1V765.6H1275.9V770.0H1281.4V774.4H1284.6V778.8H1287.2V783.2H1289.8V787.6H1292.8V792.0H1295.3V796.4H1298.3V800.8H1300.9V805.2H1303.5V809.6H1306.5V814.0H1309.2V818.4H1313.8V822.8H1318.3V827.2H1322.8V831.6H1326.8V836.0H1331.3V840.4H1335.7V844.8H1338.0V849.2H1340.4V853.6H1343.1V858.0H1345.5V862.4H1347.8V866.8H1349.9V871.2H1351.9V875.6H1353.9V880.0H1355.9V884.4H1357.9V888.8H1359.9V893.2H1361.9V897.6H1364.1V902.0H1366.2V906.4H1368.4V910.8H1370.9V915.2H1373.1V919.6H1375.2V924.0H1377.6V928.4H1379.9V932.8H1382.7V937.2H1385.0V941.6H1387.4V946.0H1389.2V950.4H1390.6V954.8H1391.8V959.2H1393.2V963.6H1394.5V968.0H1395.9V972.4H1397.1V976.8H1398.5V981.2H1399.8V985.6H1401.5V990.0H1403.1V994.4H1405.0V998.8H1406.8V1003.2H1408.4V1007.6H1409.7V1012.0H1411.3V1016.4H1412.9V1020.8H1414.5V1025.2H1416.1V1029.6H1417.4V1034.0H1419.0V1038.4H1420.6V1042.8H1422.2V1047.2H1423.6V1051.6H1425.1V1056.0H1426.5V1060.4H1427.9V1064.8H1429.1V1069.2H1430.5V1073.6H1431.8V1078.0H1433.0V1082.4H1434.4V1086.8H1435.8V1091.2H1436.9V1095.6H1438.3V1100.0H1439.7V1104.4H1441.1V1108.8H1442.4V1113.2H1444.0V1117.6H1445.5V1122.0H1447.0V1126.4H1448.3V1130.8H1449.8V1135.2H1451.4V1139.6H1452.7V1144.0H1454.2V1148.4H1455.3V1152.8H1456.2V1157.2H1457.3V1161.6H1458.4V1166.0H1459.3V1170.4H1460.4V1174.8H1461.3V1179.2H1462.4V1183.6H1464.0V1188.0H1465.2V1192.4H1466.7V1196.8H1468.3V1201.2H1469.8V1205.6H1471.3V1210.0H1472.6V1214.4H1473.6V1218.8H1474.5V1223.2H1475.4V1227.6H1476.2V1232.0H1477.2V1236.4H1478.0V1240.8H1479.4V1245.2H1481.0V1249.6H1482.3V1254.0H1483.8V1258.4H1485.3V1262.8H1486.6V1267.2H1488.1V1271.6H1489.7V1276.0H1491.2V1280.4H1492.5V1284.8H1494.0V1289.2H1495.6V1293.6H1497.1V1298.0H1498.4V1302.4H1499.9V1306.8H1501.5V1311.2H1502.7V1315.6H1504.3V1320.0H1506.1V1324.4H1508.1V1328.8H1510.1V1333.2H1512.1V1337.6H1514.1V1342.0H1515.8V1346.4H1518.0V1350.8H1520.2V1355.2H1522.4V1359.6H1524.6V1364.0H1527.0V1368.4H1530.0V1372.8H1532.5V1377.2H1535.5V1381.6H1538.1V1386.0H1541.3V1390.4H1544.2V1394.8H1547.5V1399.2H1550.4V1403.6H1553.5V1408.0H1556.0V1412.4H1558.5V1416.8H1560.9V1421.2H1563.4V1425.6H1566.6V1430.0H1569.8V1434.4H1573.1V1438.8H1575.8V1443.2H1579.0V1447.6H1582.3V1452.0H1585.5V1456.4H1589.2V1460.8H1593.2V1465.2H1597.7V1469.6H1601.6V1474.0H1606.2V1478.4H1610.7V1482.8H1614.6V1487.2H1619.1V1491.6H1623.1V1496.0H1627.6V1500.4H1632.1V1504.8H1639.0V1509.2H1651.4V1513.6H1657.1V1518.0H1661.3V1522.4H1664.1V1526.8H1665.0V1531.2H1665.8V1535.6H1668.8V1540.0H1674.6V1544.4H1679.6V1548.8H1685.2V1553.2H1690.2V1557.6H1695.2V1562.0H1700.9V1566.4H1706.7V1570.8H1712.5V1575.2H1718.3V1579.6H1727.1V1584.0H1736.8V1588.4H1743.8V1592.8H1744.6V1597.2H1745.3V1601.6H1746.1V1606.0H1751.1V1610.4H1758.8V1614.8H1769.4V1619.2H1780.1V1623.6H1792.4V1628.0H1807.3V1632.4H1824.6V1636.8H1843.5V1641.2H1847.4V1645.6H1847.4V1650.0H1908.7V1654.4H1921.8V1658.8H1934.0V1663.2H1947.1V1667.6H1966.1V1672.0H1966.1V1676.4H2010.2V1680.8H2105.4V1685.2H2109.9V1689.6H2187.2" stroke="#8f8a58" stroke-width="5.2"/>
</g>
<g id="s-feni">
<rect x="2155.2" y="1691.8" width="33.3" height="10.7" fill="#5b4a82"/>
<path class="c" d="M452.0 247.5 L475.0 251.0 L492.9 253.8 L546.2 269.2 L586.2 279.9 L652.7 293.2 L706.0 303.9 L759.3 319.8 L799.2 327.8 L834.6 349.1 L866.6 362.5 L893.2 373.1" stroke="#5b4a82" stroke-width="6.4"/>
<path class="c" d="M452.0 247.5 L475.0 251.0 L492.9 253.8 L546.2 269.2 L586.2 279.9 L652.7 293.2 L706.0 303.9 L759.3 319.8 L799.2 327.8" stroke="#5b4a82" stroke-width="7.2"/>
<path class="c" d="M834.6 349.1 L866.6 362.5 L893.2 373.1" stroke="#5b4a82" stroke-width="7.2"/>
<path class="c" d="M1039.7 554.2 L1066.3 567.5" stroke="#5b4a82" stroke-width="7.2"/>
<path class="c" d="M1566.0 1426.1 L1613.0 1442.8" stroke="#5b4a82" stroke-width="7.2"/>
<path class="c" d="M1794.1 1589.3 L1812.8 1594.6" stroke="#5b4a82" stroke-width="7.2"/>
<path class="c" d="M1826.1 1610.6 L1852.7 1618.6" stroke="#5b4a82" stroke-width="7.2"/>
<path class="c" d="M1866.0 1629.3 L1892.7 1634.6 L1919.3 1642.6 L1951.3 1647.9" stroke="#5b4a82" stroke-width="7.2"/>
<path class="c" d="M1953.9 1661.2 L1985.9 1663.9" stroke="#5b4a82" stroke-width="7.2"/>
<path class="c" d="M1987.4 1666.5 L2022.0 1674.5 L2048.7 1682.5 L2083.3 1690.5 L2128.6 1694.5 L2187.2 1695.8" stroke="#5b4a82" stroke-width="7.2"/>
<path class="c" style="stroke-linejoin:miter;stroke-linecap:butt" d="M452.0 246.4H459.9V250.8H488.0V255.2H506.1V259.6H520.7V264.0H536.2V268.4H551.7V272.8H568.1V277.2H584.6V281.6H606.0V286.0H628.2V290.4H650.4V294.8H671.8V299.2H694.1V303.6H712.9V308.0H727.6V312.4H742.3V316.8H756.9V321.2H777.6V325.6H799.2V330.0H806.8V334.4H813.8V338.8H821.4V343.2H829.1V347.6H836.9V352.0H847.3V356.4H857.7V360.8H868.1V365.2H879.5V369.6H890.2V374.0H896.6V378.4H901.1V382.8H905.1V387.2H909.6V391.6H914.2V396.0H918.7V400.4H922.2V404.8H925.6V409.2H929.0V413.6H932.4V418.0H935.2V422.4H938.6V426.8H942.0V431.2H945.3V435.6H948.7V440.0H952.1V444.4H955.5V448.8H958.3V453.2H962.7V457.6H966.7V462.0H971.3V466.4H975.9V470.8H979.9V475.2H983.4V479.6H986.7V484.0H990.0V488.4H992.8V492.8H996.0V497.2H999.3V501.6H1002.1V506.0H1005.4V510.4H1008.6V514.8H1011.4V519.2H1014.7V523.6H1018.0V528.0H1020.8V532.4H1024.0V536.8H1027.4V541.2H1031.2V545.6H1034.4V550.0H1038.1V554.4H1044.7V558.8H1053.4V563.2H1062.7V567.6H1068.6V572.0H1073.2V576.4H1077.8V580.8H1081.9V585.2H1086.5V589.6H1091.0V594.0H1095.5V598.4H1099.5V602.8H1104.0V607.2H1108.6V611.6H1113.1V616.0H1116.9V620.4H1120.6V624.8H1124.4V629.2H1128.6V633.6H1132.4V638.0H1137.3V642.4H1142.9V646.8H1148.5V651.2H1153.5V655.6H1159.1V660.0H1164.7V664.4H1169.7V668.8H1176.3V673.2H1183.3V677.6H1190.4V682.0H1198.1V686.4H1202.7V690.8H1206.4V695.2H1209.6V699.6H1213.3V704.0H1217.9V708.4H1222.4V712.8H1226.9V717.2H1231.5V721.6H1235.4V726.0H1239.9V730.4H1243.1V734.8H1245.9V739.2H1249.2V743.6H1252.0V748.0H1255.3V752.4H1258.7V756.8H1263.5V761.2H1268.4V765.6H1273.3V770.0H1278.8V774.4H1281.9V778.8H1284.5V783.2H1287.1V787.6H1290.1V792.0H1292.7V796.4H1295.7V800.8H1298.3V805.2H1300.8V809.6H1303.8V814.0H1306.6V818.4H1311.1V822.8H1315.6V827.2H1320.2V831.6H1324.1V836.0H1328.7V840.4H1333.0V844.8H1335.4V849.2H1337.7V853.6H1340.5V858.0H1342.8V862.4H1345.2V866.8H1347.3V871.2H1349.3V875.6H1351.3V880.0H1353.3V884.4H1355.3V888.8H1357.3V893.2H1359.3V897.6H1361.4V902.0H1363.6V906.4H1365.7V910.8H1368.3V915.2H1370.4V919.6H1372.6V924.0H1374.9V928.4H1377.3V932.8H1380.0V937.2H1382.4V941.6H1384.7V946.0H1386.7V950.4H1388.2V954.8H1389.5V959.2H1391.0V963.6H1392.5V968.0H1394.1V972.4H1395.4V976.8H1396.9V981.2H1398.4V985.6H1399.4V990.0H1400.0V994.4H1400.5V998.8H1401.5V1003.2H1403.1V1007.6H1404.4V1012.0H1406.0V1016.4H1407.6V1020.8H1409.2V1025.2H1410.8V1029.6H1412.1V1034.0H1413.7V1038.4H1415.3V1042.8H1416.9V1047.2H1418.2V1051.6H1419.8V1056.0H1421.2V1060.4H1422.6V1064.8H1423.7V1069.2H1425.1V1073.6H1426.5V1078.0H1427.7V1082.4H1429.1V1086.8H1430.5V1091.2H1431.6V1095.6H1433.0V1100.0H1434.4V1104.4H1435.7V1108.8H1436.7V1113.2H1437.9V1117.6H1438.9V1122.0H1440.1V1126.4H1441.2V1130.8H1442.2V1135.2H1443.4V1139.6H1444.6V1144.0H1445.5V1148.4H1446.7V1152.8H1447.7V1157.2H1448.9V1161.6H1449.2V1166.0H1449.5V1170.4H1449.8V1174.8H1450.0V1179.2H1450.4V1183.6H1450.6V1188.0H1450.9V1192.4H1451.2V1196.8H1451.5V1201.2H1452.3V1205.6H1453.3V1210.0H1454.1V1214.4H1455.0V1218.8H1455.8V1223.2H1456.8V1227.6H1457.6V1232.0H1458.6V1236.4H1459.4V1240.8H1459.9V1245.2H1460.3V1249.6H1460.8V1254.0H1461.2V1258.4H1461.6V1262.8H1462.1V1267.2H1463.4V1271.6H1464.6V1276.0H1466.0V1280.4H1467.4V1284.8H1468.6V1289.2H1470.0V1293.6H1471.4V1298.0H1472.8V1302.4H1474.4V1306.8H1476.4V1311.2H1478.3V1315.6H1480.2V1320.0H1483.3V1324.4H1486.4V1328.8H1489.9V1333.2H1493.4V1337.6H1496.9V1342.0H1499.7V1346.4H1501.3V1350.8H1502.8V1355.2H1504.1V1359.6H1505.7V1364.0H1507.2V1368.4H1511.2V1372.8H1516.8V1377.2H1521.7V1381.6H1526.6V1386.0H1530.2V1390.4H1533.7V1394.8H1537.3V1399.2H1540.8V1403.6H1544.4V1408.0H1548.0V1412.4H1553.0V1416.8H1558.0V1421.2H1562.9V1425.6H1571.4V1430.0H1583.5V1434.4H1595.6V1438.8H1608.5V1443.2H1617.1V1447.6H1623.8V1452.0H1630.5V1456.4H1637.2V1460.8H1643.9V1465.2H1650.7V1469.6H1657.4V1474.0H1664.1V1478.4H1670.8V1482.8H1677.5V1487.2H1684.2V1491.6H1690.8V1496.0H1694.5V1500.4H1698.3V1504.8H1702.0V1509.2H1705.7V1513.6H1711.6V1518.0H1718.2V1522.4H1724.2V1526.8H1730.9V1531.2H1735.3V1535.6H1738.1V1540.0H1741.4V1544.4H1744.3V1548.8H1747.9V1553.2H1752.6V1557.6H1757.2V1562.0H1761.3V1566.4H1765.9V1570.8H1769.9V1575.2H1775.6V1579.6H1782.5V1584.0H1789.3V1588.4H1798.8V1592.8H1813.3V1597.2H1817.0V1601.6H1820.8V1606.0H1824.5V1610.4H1833.1V1614.8H1848.0V1619.2H1856.5V1623.6H1862.2V1628.0H1870.9V1632.4H1893.5V1636.8H1907.6V1641.2H1924.9V1645.6H1951.3V1650.0H1952.3V1654.4H1953.1V1658.8H1953.9V1663.2H1986.9V1667.6H2001.6V1672.0H2021.3V1676.4H2036.1V1680.8H2051.0V1685.2H2069.9V1689.6H2098.7V1694.0H2187.2" stroke="#5b4a82" stroke-width="5.2"/>
</g>
<g id="s-std">
<path class="c" d="M485.0 246.6 L486.2 246.8 L488.8 247.1 L492.5 247.7 L497.5 248.4 L502.3 249.1 L507.0 249.9 L511.5 250.6 L515.8 251.4 L522.2 252.6 L530.6 254.4 L541.2 256.8 L553.9 259.6 L566.7 262.5 L579.7 265.4 L592.8 268.4 L606.1 271.4 L620.3 274.6 L635.3 277.9 L651.1 281.4 L667.7 285.1 L683.5 288.6 L698.5 292.1 L712.6 295.5 L726.0 298.9 L739.3 302.4 L752.6 306.0 L765.9 309.9 L779.2 313.8 L790.9 317.8 L801.0 321.8 L809.5 325.8 L816.3 329.8 L823.2 333.7 L829.9 337.3 L836.6 340.8 L843.3 344.1 L849.9 347.3 L856.6 350.3 L863.2 353.1 L869.9 355.8 L876.1 358.5 L881.7 361.1 L886.9 363.8 L891.5 366.4 L895.5 369.3 L898.9 372.3 L901.5 375.4" stroke="#000000" stroke-width="7.4"/>
<path class="c" d="M901.5 375.4 L903.5 378.8" stroke="#000000" stroke-width="6.8"/>
<path class="c" d="M903.5 378.8 L906.4 382.1 L910.0 385.4 L914.5 388.7 L919.8 392.1 L924.0 395.2 L927.0 398.2" stroke="#000000" stroke-width="7.4"/>
<path class="c" d="M927.0 398.2 L928.8 401.1" stroke="#000000" stroke-width="6.8"/>
<path class="c" d="M928.8 401.1 L929.5 403.7" stroke="#000000" stroke-width="6.4"/>
<path class="c" d="M929.5 403.7 L931.0 406.6 L933.3 409.6" stroke="#000000" stroke-width="6.8"/>
<path class="c" d="M933.3 409.6 L936.5 412.7 L940.5 416.0 L944.3 419.7 L948.0 423.7" stroke="#000000" stroke-width="7.4"/>
<path class="c" d="M948.0 423.7 L951.5 428.0 L954.8 432.7 L958.1 437.4 L961.5 442.0 L964.8 446.7 L968.1 451.3 L971.4 456.0 L974.8 460.7 L978.1 465.3 L981.4 470.0 L984.8 475.0 L988.1 480.3 L991.4 486.0 L994.7 491.9 L998.1 497.9 L1001.4 503.9 L1004.7 509.9 L1008.1 515.9 L1011.1 521.7 L1013.7 527.4 L1016.0 532.9" stroke="#000000" stroke-width="6.8"/>
<path class="c" d="M1016.0 532.9 L1018.0 538.2" stroke="#000000" stroke-width="6.4"/>
<path class="c" d="M1018.0 538.2 L1020.2 543.4 L1022.5 548.4 L1025.0 553.2 L1027.7 557.9 L1030.9 562.8 L1034.5 568.2 L1038.7 573.8 L1043.3 579.8 L1047.8 585.7 L1052.2 591.3 L1056.3 596.8 L1060.3 602.1 L1064.1 606.8" stroke="#000000" stroke-width="6.8"/>
<path class="c" d="M1064.1 606.8 L1067.8 610.8 L1071.3 614.1 L1074.6 616.8 L1078.8 619.9 L1083.8 623.6 L1089.6 627.8 L1096.3 632.4 L1103.8 638.0 L1112.1 644.4 L1121.2 651.6 L1131.2 659.8 L1141.2 667.7 L1151.2 675.4 L1161.2 682.9 L1171.2 690.3 L1181.2 697.3 L1191.1 703.9 L1201.1 710.2 L1211.1 716.2 L1221.1 722.2 L1231.1 728.2 L1241.1 734.2 L1251.1 740.2 L1261.1 746.2 L1271.0 752.2 L1281.0 758.2 L1291.0 764.2 L1300.2 769.3 L1308.5 773.7 L1316.0 777.2 L1322.6 779.8 L1329.3 782.2 L1336.0 784.4 L1342.6 786.3 L1349.3 788.0 L1356.8 789.3 L1365.1 790.4 L1374.2 791.2 L1384.2 791.6 L1395.1 792.1 L1406.8 792.6 L1419.5 793.1 L1433.0 793.7 L1447.3 794.2 L1462.4 794.8 L1478.2 795.5 L1494.9 796.1 L1508.2 797.0 L1518.2 798.0 L1524.8 799.1 L1528.2 800.5 L1533.2 801.9 L1539.8 803.4 L1548.1 804.9 L1558.1 806.6 L1568.1 808.1 L1578.1 809.4 L1588.1 810.6 L1598.1 811.6 L1608.1 812.7 L1618.0 813.9 L1628.0 815.1 L1638.0 816.4 L1648.0 818.0 L1658.0 819.8 L1668.0 821.9 L1678.0 824.3 L1687.9 826.8 L1697.9 829.4 L1707.9 832.2 L1717.9 835.2 L1727.9 838.7 L1737.9 842.5 L1747.9 846.7 L1757.9 851.4 L1767.0 855.7 L1775.3 859.7 L1782.8 863.4 L1789.5 866.7 L1795.3 870.2 L1800.3 873.9 L1804.5 877.7" stroke="#000000" stroke-width="7.4"/>
<path class="c" d="M1804.5 877.7 L1807.8 881.7" stroke="#000000" stroke-width="6.8"/>
<path class="c" d="M1807.8 881.7 L1812.0 885.8 L1816.9 890.2 L1822.8 894.7 L1829.4 899.3 L1836.1 904.5 L1842.7 910.1 L1849.4 916.3 L1856.1 923.0 L1862.7 930.1 L1869.4 937.8" stroke="#000000" stroke-width="7.4"/>
<path class="c" d="M1869.4 937.8 L1876.0 945.9 L1882.7 954.6 L1889.0 963.2 L1895.0 971.9 L1900.7 980.5 L1906.0 989.2 L1911.2 998.0 L1916.1 1007.0 L1921.0 1016.2 L1925.6 1025.5 L1930.0 1034.1 L1934.0 1042.1 L1937.6 1049.5 L1940.9 1056.1 L1943.5 1061.1 L1945.4 1064.5 L1946.5 1066.3" stroke="#000000" stroke-width="6.8"/>
<path class="c" d="M1946.5 1066.3 L1946.9 1066.4" stroke="#000000" stroke-width="7.4"/>
<path class="c" d="M1946.9 1066.4 L1948.3 1069.0 L1950.8 1074.0 L1954.4 1081.6 L1959.1 1091.5 L1963.7 1101.5 L1968.4 1111.5 L1973.0 1121.5 L1977.7 1131.5 L1982.2 1141.5 L1986.5 1151.5 L1990.7 1161.5 L1994.7 1171.4 L1998.8 1181.4 L2003.2 1191.4 L2007.7 1201.4 L2012.3 1211.4 L2016.6 1220.7 L2020.6 1229.4 L2024.3 1237.4 L2027.6 1244.7 L2031.0 1251.8 L2034.3 1258.8 L2037.6 1265.6 L2040.9 1272.3 L2044.6 1279.3 L2048.6 1286.6 L2052.9 1294.3 L2057.6 1302.3 L2061.6 1309.9 L2064.9 1317.2" stroke="#000000" stroke-width="6.8"/>
<path class="c" d="M2064.9 1317.2 L2067.6 1324.2 L2069.6 1330.9 L2071.2 1336.8 L2072.6 1341.9 L2073.6 1346.2 L2074.3 1349.7 L2075.6 1355.3 L2077.6 1363.1 L2080.3 1372.9 L2083.6 1384.9 L2087.0 1396.4 L2090.3 1407.4 L2093.6 1417.9 L2096.9 1427.9 L2100.3 1438.2 L2103.6 1448.8 L2106.9 1459.8 L2110.3 1471.1 L2113.6 1482.6 L2116.9 1494.3 L2120.3 1506.1 L2123.6 1518.1 L2126.7 1530.4 L2129.7 1543.0 L2132.6 1556.0 L2135.2 1569.3 L2137.7 1582.7 L2140.1 1596.0 L2142.2 1609.3 L2144.2 1622.6 L2146.2 1635.6 L2148.2 1648.2 L2150.2 1660.5 L2152.2 1672.5 L2154.0 1682.5 L2155.7 1690.5 L2157.2 1696.5 L2158.5 1700.5 L2159.5 1703.5 L2160.2 1705.5 L2160.5 1706.5" stroke="#000000" stroke-width="6.4"/>
</g>
</g>
<g id="callouts">
<rect x="1670.6" y="695.0" width="135.2" height="74.4" fill="#ffffff" stroke="#bf1e2b" stroke-width="6"/>
<text x="1736.2" y="757.7" font-size="56" text-anchor="middle">Mn</text>
<rect x="1576.0" y="894.7" width="134.0" height="72.3" fill="#ffffff" stroke="#1f78bd" stroke-width="6"/>
<text x="1641.0" y="956.4" font-size="56" text-anchor="middle">Fe</text>
<rect x="1917.2" y="924.0" width="261.6" height="73.8" fill="#ffffff" stroke="#000000" stroke-width="6"/>
<text x="2046.0" y="986.4" font-size="56" text-anchor="middle">Standard</text>
<text x="1363.7" y="1178.6" font-size="56" text-anchor="middle">Fe+Ni</text>
<rect x="1561.0" y="1089.5" width="135.7" height="76.5" fill="#ffffff" stroke="#1faa5f" stroke-width="6"/>
<text x="1626.8" y="1153.2" font-size="56" text-anchor="middle">Co</text>
<rect x="1746.7" y="1097.5" width="136.3" height="75.3" fill="#ffffff" stroke="#f5bb1c" stroke-width="6"/>
<text x="1812.8" y="1160.7" font-size="56" text-anchor="middle">Cu</text>
<rect x="1554.8" y="1428.5" width="132.5" height="73.9" fill="#ffffff" stroke="#8e8754" stroke-width="6"/>
<text x="1619.0" y="1491.0" font-size="56" text-anchor="middle">Ni</text>
</g>
<g id="legend">
<line x1="399" y1="1034.0" x2="473" y2="1034.0" stroke="#1fa866" stroke-width="5.8"/>
<text x="476.5" y="1054.0" font-size="56">Co</text>
<line x1="399" y1="1109.0" x2="473" y2="1109.0" stroke="#e9c535" stroke-width="5.8"/>
<text x="476.5" y="1129.0" font-size="56">Cu</text>
<line x1="399" y1="1185.0" x2="473" y2="1185.0" stroke="#34567a" stroke-width="5.8"/>
<text x="476.5" y="1205.0" font-size="56">Fe</text>
<line x1="399" y1="1262.0" x2="473" y2="1262.0" stroke="#bc1c28" stroke-width="5.8"/>
<text x="476.5" y="1282.0" font-size="56">Mn</text>
<line x1="399" y1="1338.0" x2="473" y2="1338.0" stroke="#959069" stroke-width="5.8"/>
<text x="476.5" y="1358.0" font-size="56">Ni</text>
<line x1="399" y1="1414.5" x2="473" y2="1414.5" stroke="#665a8a" stroke-width="5.8"/>
<text x="476.5" y="1434.5" font-size="56">Fe + Ni</text>
<line x1="399" y1="1491.0" x2="473" y2="1491.0" stroke="#0c0c0c" stroke-width="5.8"/>
<text x="476.5" y="1511.0" font-size="56">Standard</text>
</g>
<g id="xticks">
<text x="248.4" y="184" font-size="56" text-anchor="middle">40</text>
<text x="525.4" y="184" font-size="56" text-anchor="middle">80</text>
<text x="802.4" y="184" font-size="56" text-anchor="middle">120</text>
<text x="1079.4" y="184" font-size="56" text-anchor="middle">160</text>
<text x="1356.3" y="184" font-size="56" text-anchor="middle">200</text>
<text x="1633.3" y="184" font-size="56" text-anchor="middle">240</text>
<text x="1910.3" y="184" font-size="56" text-anchor="middle">280</text>
<text x="2187.3" y="184" font-size="56" text-anchor="middle">320</text>
</g>
<g id="yticks">
<text x="198.6" y="262.0" font-size="56" text-anchor="end">0</text>
<text x="198.6" y="445.0" font-size="56" text-anchor="end">-1</text>
<text x="198.6" y="628.1" font-size="56" text-anchor="end">-2</text>
<text x="198.6" y="811.1" font-size="56" text-anchor="end">-3</text>
<text x="198.6" y="994.2" font-size="56" text-anchor="end">-4</text>
<text x="198.6" y="1177.2" font-size="56" text-anchor="end">-5</text>
<text x="198.6" y="1360.2" font-size="56" text-anchor="end">-6</text>
<text x="198.6" y="1543.3" font-size="56" text-anchor="end">-7</text>
<text x="198.6" y="1726.3" font-size="56" text-anchor="end">-8</text>
</g>
<text class="b" x="1195.5" y="108" font-size="56" text-anchor="middle">Temperature (ºC)</text>
<text class="b" transform="translate(113 976.5) rotate(-90)" font-size="56" text-anchor="middle">Hydrogen Concentration (wt.%)</text>
</svg>
</body></html>
